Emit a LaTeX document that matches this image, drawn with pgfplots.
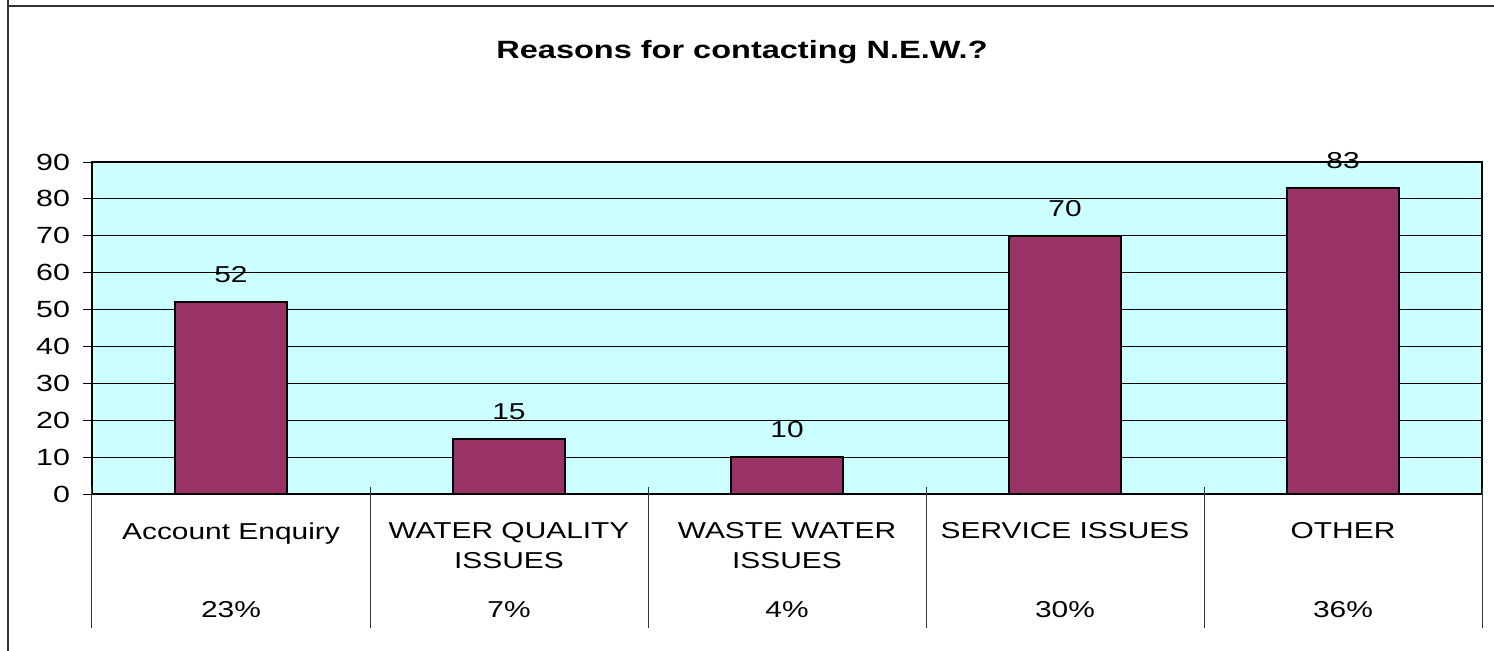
\documentclass[border=0pt]{standalone}
\usepackage{fontspec}
\setmainfont{Liberation Sans}[FakeStretch=1.3]
\usepackage{pgfplots}
\pgfplotsset{compat=1.18}

\definecolor{barcol}{HTML}{993366}
\definecolor{plotbg}{HTML}{CCFFFF}

\pgfplotstableread{
x  n   pct
0  52  23
1  15  7
2  10  4
3  70  30
4  83  36
}\reasons

\begin{document}
\begin{tikzpicture}
  % page = 1494 x 650 px, 1 px = 0.5pt
  \useasboundingbox (0pt,0pt) rectangle (747pt,325pt);
  \draw[line width=1pt,black!80] (4pt,330pt) -- (4pt,322pt) -- (750pt,322pt);
  \draw[line width=1pt,black!80] (4pt,322pt) -- (4pt,-5pt);
  \node[font=\bfseries\fontsize{12.5}{15}\selectfont] at (371pt,299pt) {Reasons for contacting N.E.W.?};
  \begin{axis}[
      at={(46pt,78pt)}, anchor=south west,
      scale only axis,
      width=695pt, height=166pt,
      xmin=-0.5, xmax=4.5,
      ymin=0, ymax=90,
      ytick={0,10,...,90},
      xtick={0,...,4},
      ytick pos=left,
      xticklabels={Account Enquiry,{WATER QUALITY\\ISSUES},{WASTE WATER\\ISSUES},SERVICE ISSUES,OTHER},
      xtick style={draw=none},
      xticklabel style={align=center, anchor=north, inner sep=0pt, yshift=-5pt,
        font=\fontsize{11.5}{15}\selectfont},
      yticklabel style={font=\fontsize{11.7}{14}\selectfont, xshift=-3pt},
      /pgf/number format/assume math mode=true,
      tick align=center, major tick length=9pt,
      ytick style={black, line width=0.5pt},
      ymajorgrids,
      grid style={black, line width=0.5pt},
      axis line style={black, line width=1pt},
      axis background/.style={fill=plotbg},
      ybar, bar width=56pt,
      nodes near coords,
      nodes near coords style={font=\fontsize{11.5}{14}\selectfont, anchor=south, inner sep=0pt, yshift=9pt},
      clip=false,
    ]
    \addplot[fill=barcol, draw=black, line width=1pt] table[x=x, y=n] {\reasons};
    \foreach \s in {-0.5,0.5,1.5,2.5,3.5,4.5} {
      \edef\tmp{\noexpand\draw[black!80, line width=0.5pt] ([yshift=3.5pt]axis cs:\s,0) -- ([yshift=-67pt]axis cs:\s,0);}
      \tmp
    }
    \foreach \i/\p in {0/23,1/7,2/4,3/30,4/36} {
      \edef\tmp{\noexpand\node[font=\noexpand\fontsize{11.5}{14}\noexpand\selectfont] at ([yshift=-58pt]axis cs:\i,0) {\p\noexpand\%};}
      \tmp
    }
  \end{axis}
\end{tikzpicture}
\end{document}
